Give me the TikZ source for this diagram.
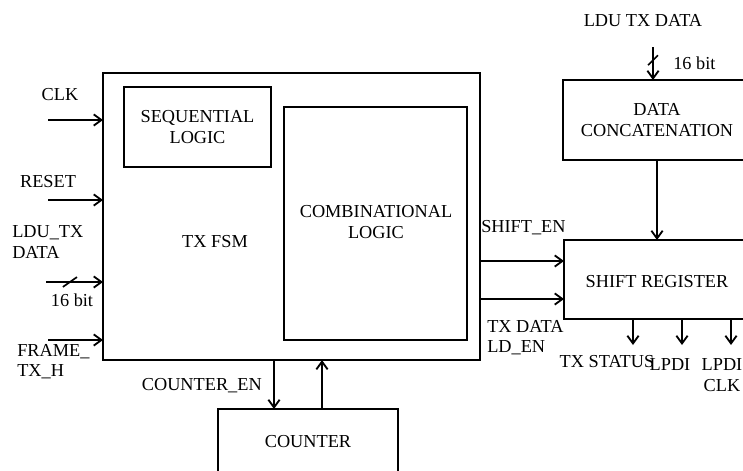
\documentclass[tikz,border=0pt]{standalone}
\usepackage{fontspec}
\setmainfont{Liberation Serif}
\usetikzlibrary{arrows.meta, positioning, calc, decorations.markings}

\tikzset{
  block/.style={draw, rectangle, line width=1.3pt, inner sep=0pt, outer sep=0pt, anchor=north west},
  sig/.style={-{Straight Barb[length=5.5pt,width=8pt]}, line width=1.3pt},
  lbl/.style={font=\fontsize{13}{14.4}\selectfont, inner sep=0pt},
  busmark/.style={postaction={decorate}, decoration={markings, mark=at position #1 with {\draw[-, line width=1.2pt] (-5pt,-3.5pt) -- (5pt,3.5pt);}}},
  busmarkv/.style={postaction={decorate}, decoration={markings, mark=at position #1 with {\draw[-, line width=1.2pt] (3.5pt,-3.5pt) -- (-3.5pt,3.5pt);}}},
}

\begin{document}
\begin{tikzpicture}[x=0.025cm, y=-0.025cm]
    \useasboundingbox (0,0) rectangle (743,470);
    \clip (0,0) rectangle (743,470);

    % FSM block
    \node[block, minimum width=9.425cm, minimum height=7.175cm] (fsm) at (103,73) {};
    \node[block, minimum width=3.675cm, minimum height=2cm] (seq) at (124,87) {};
    \node[lbl, align=center] (seqlbl) at (seq.center) {SEQUENTIAL\\LOGIC};
    \node[block, minimum width=4.575cm, minimum height=5.825cm] (comb) at (284,107) {};
    \node[lbl, align=center] (comblbl) at (376,222) {COMBINATIONAL\\LOGIC};
    \node[lbl] (fsmlbl) at (215,242) {TX FSM};

    % Right side blocks
    \node[block, minimum width=4.7cm, minimum height=2cm] (concat) at (563,80) {};
    \node[lbl, align=center] (concatlbl) at (concat.center) {DATA\\CONCATENATION};
    \node[block, minimum width=4.65cm, minimum height=1.975cm] (shift) at (564,240) {};
    \node[lbl] (shiftlbl) at (657,282) {SHIFT REGISTER};

    % Counter
    \node[block, minimum width=4.5cm, minimum height=1.65cm] (counter) at (218,409) {};
    \node[lbl] (counterlbl) at (308,442) {COUNTER};

    % Inputs to FSM
    \coordinate (clkin) at (48,120);
    \coordinate (rstin) at (48,200);
    \coordinate (datain) at (46,282);
    \coordinate (framein) at (48,340);
    \draw[sig] (clkin) -- (clkin -| fsm.west);
    \draw[sig] (rstin) -- (rstin -| fsm.west);
    \draw[sig, busmark=0.42] (datain) -- (datain -| fsm.west);
    \draw[sig] (framein) -- (framein -| fsm.west);

    \node[lbl] (clklbl) at (60,95) {CLK};
    \node[lbl] (rstlbl) at (48,182) {RESET};
    \node[lbl, align=left, anchor=west] (datalbl) at (12,242) {LDU\_TX\\DATA};
    \node[lbl] (buslbl) at (72,300) {16 bit};
    \node[lbl, align=left, anchor=west] (framelbl) at (17,362) {FRAME\_\\TX\_H};

    % FSM to shift register
    \coordinate (shen) at (480,261);
    \coordinate (lden) at (480,299);
    \draw[sig] (shen) -- (shen -| shift.west);
    \draw[sig] (lden) -- (lden -| shift.west);
    \node[lbl, anchor=west] (shenlbl) at (481,228) {SHIFT\_EN};
    \node[lbl, align=left, anchor=west] (ldenlbl) at (487,338) {TX DATA\\LD\_EN};

    % Data path on the right
    \coordinate (ldin) at (653,47);
    \draw[sig, busmarkv=0.4] (ldin) -- (ldin |- concat.north);
    \node[lbl] (ldinlbl) at (643,21) {LDU TX DATA};
    \node[lbl, anchor=west] (ldbuslbl) at (673,63) {16 bit};
    \draw[sig] (concat.south) -- (shift.north);

    % Shift register outputs
    \coordinate (txst) at (633,345);
    \coordinate (lpdi) at (682,345);
    \coordinate (lpdiclk) at (731,345);
    \draw[sig] (txst |- shift.south) -- (txst);
    \draw[sig] (lpdi |- shift.south) -- (lpdi);
    \draw[sig] (lpdiclk |- shift.south) -- (lpdiclk);
    \node[lbl] (txstlbl) at (607,362) {TX STATUS};
    \node[lbl] (lpdilbl) at (670,365) {LPDI};
    \node[lbl, align=center] (lpdiclklbl) at (722,375) {LPDI\\CLK};

    % FSM and counter
    \coordinate (cnten) at (274,360);
    \coordinate (cntdone) at (322,409);
    \draw[sig] (cnten) -- (cnten |- counter.north);
    \draw[sig] (cntdone) -- (cntdone |- fsm.south);
    \node[lbl, anchor=east] (cntenlbl) at (262,386) {COUNTER\_EN};
\end{tikzpicture}
\end{document}
